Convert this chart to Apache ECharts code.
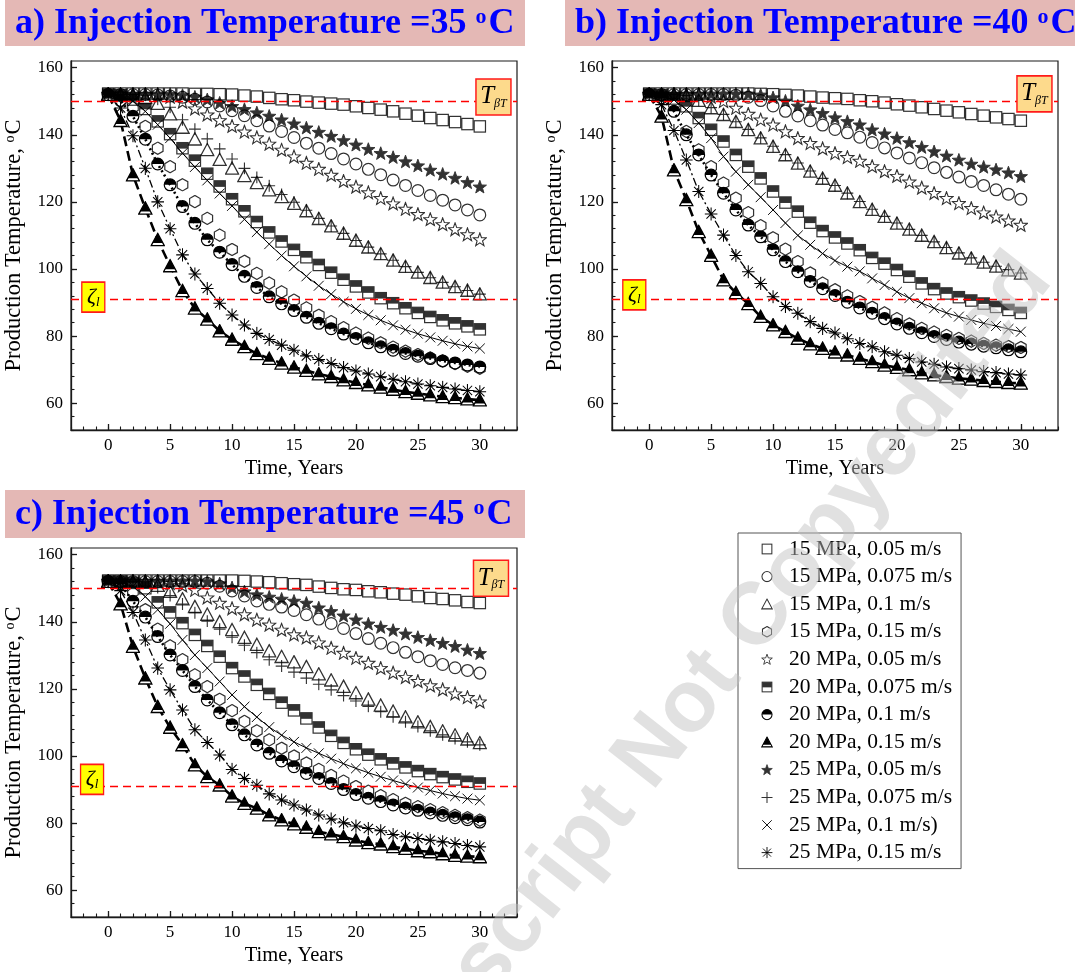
<!DOCTYPE html>
<html>
<head>
<meta charset="utf-8">
<title>Production temperature vs time</title>
<script src="https://cdn.jsdelivr.net/npm/echarts@6/dist/echarts.min.js"></script>
<style>
  html, body { margin: 0; padding: 0; background: #ffffff; }
  #chart { width: 1078px; height: 972px; }
</style>
</head>
<body>
<div id="chart"></div>
<script>
// ---- data -------------------------------------------------------------
const years = [0,1,2,3,4,5,6,7,8,9,10,11,12,13,14,15,16,17,18,19,20,21,22,23,24,25,26,27,28,29,30];
const seriesNames = [
  '15 MPa, 0.05 m/s', '15 MPa, 0.075 m/s', '15 MPa, 0.1 m/s', '15 MPa, 0.15 m/s',
  '20 MPa, 0.05 m/s', '20 MPa, 0.075 m/s', '20 MPa, 0.1 m/s', '20 MPa, 0.15 m/s',
  '25 MPa, 0.05 m/s', '25 MPa, 0.075 m/s', '25 MPa, 0.1 m/s)', '25 MPa, 0.15 m/s'
];
const injectionTemps = ['35', '40', '45'];
const panelLetters = ['a', 'b', 'c'];
const xTickValues = [0, 5, 10, 15, 20, 25, 30];
const yTickValues = [60, 80, 100, 120, 140, 160];
const tBetaT = 150;   // T_betaT threshold, degC
const zetaL = 91;     // zeta_l threshold, degC

// Injection temperature 35 degC
const a15_005  = [152.3,152.3,152.3,152.3,152.3,152.3,152.3,152.2,152.2,152.1,152.0,151.7,151.4,151.0,150.6,150.3,149.9,149.6,149.3,149.0,148.5,148.0,147.5,147.0,146.3,145.7,145.0,144.4,143.8,143.2,142.5];
const a15_0075 = [152.0,152.0,152.0,152.0,151.9,151.6,151.2,150.6,149.8,148.6,147.2,145.7,144.2,142.6,141.0,139.2,137.5,136.0,134.4,132.8,131.3,129.7,128.1,126.5,124.9,123.4,121.9,120.5,119.1,117.6,116.1];
const a15_01   = [152.0,152.0,151.8,151.0,149.3,146.2,142.2,138.7,135.5,132.6,130.0,127.8,125.7,123.5,121.5,119.5,117.3,115.0,112.8,110.6,108.5,106.5,104.5,102.6,100.7,99.0,97.4,96.0,94.7,93.6,92.5];
const a15_015  = [152.0,151.6,148.2,142.5,136.0,130.5,125.1,120.1,115.1,110.1,105.8,102.3,98.7,95.8,93.2,90.7,88.4,86.2,84.3,82.5,80.9,79.4,78.0,76.7,75.5,74.5,73.5,72.6,71.8,71.0,70.4];
const a20_005  = [152.0,152.0,152.0,152.0,151.9,151.3,149.8,147.8,146.0,144.3,142.6,140.9,139.2,137.3,135.5,133.5,131.6,129.8,128.0,126.2,124.5,122.8,121.1,119.5,117.9,116.3,114.8,113.3,111.8,110.3,108.8];
const a20_0075 = [152.0,151.8,150.5,147.7,144.0,140.2,136.0,132.3,128.4,124.6,120.8,117.2,114.0,110.9,108.2,105.7,103.5,101.2,98.9,96.8,94.8,93.0,91.3,89.8,88.3,86.9,85.7,84.7,83.8,82.9,82.0];
const a20_01   = [152.0,150.2,145.5,138.7,131.3,125.1,118.6,113.6,108.7,105.0,101.3,97.8,94.5,91.7,89.6,87.6,85.6,83.8,82.2,80.6,79.3,78.0,76.8,75.8,74.8,74.0,73.3,72.6,72.0,71.4,70.8];
const a20_015  = [152.0,144.2,128.0,118.1,108.7,100.9,93.5,88.3,85.0,81.5,79.0,76.8,74.7,73.3,71.9,70.7,69.7,68.7,67.9,66.9,66.1,65.4,64.7,64.1,63.4,62.9,62.4,61.9,61.6,61.2,60.9];
const a25_005  = [152.2,152.2,152.2,152.2,152.2,152.1,151.8,151.3,150.5,149.5,148.5,147.6,146.6,145.6,144.5,143.3,142.1,140.8,139.6,138.3,137.0,135.7,134.5,133.3,132.0,130.8,129.5,128.3,127.1,125.8,124.5];
const a25_0075 = [152.0,152.0,152.0,151.8,150.6,148.2,144.5,141.7,138.8,135.8,132.8,130.0,127.3,124.8,122.2,119.9,117.5,115.1,112.8,110.6,108.5,106.5,104.5,102.6,100.7,99.0,97.4,96.0,94.7,93.6,92.5];
const a25_01   = [152.0,151.5,150.0,147.0,143.0,139.0,134.5,130.4,126.4,122.5,118.8,114.8,111.0,107.4,104.0,100.8,97.8,95.0,92.5,90.2,88.1,86.3,84.7,83.2,81.9,80.7,79.6,78.6,77.7,76.9,76.3];
const a25_015  = [152.0,148.0,139.7,130.0,120.0,112.0,104.2,98.5,94.2,89.8,86.3,83.3,80.8,79.0,77.3,75.8,74.1,73.0,71.8,70.6,69.6,68.7,67.9,67.1,66.4,65.7,65.2,64.7,64.2,63.8,63.4];

// Injection temperature 40 degC
const b15_005  = [152.3,152.3,152.3,152.3,152.3,152.3,152.3,152.3,152.3,152.2,152.1,151.9,151.7,151.4,151.1,150.9,150.7,150.3,150.0,149.6,149.1,148.7,148.2,147.7,147.2,146.7,146.2,145.7,145.2,144.7,144.2];
const b15_0075 = [152.0,152.0,152.0,152.0,152.0,152.0,152.0,151.8,151.2,150.2,148.6,147.0,145.6,144.2,142.9,141.6,140.6,139.3,137.7,136.1,134.6,133.1,131.7,130.2,128.8,127.4,126.1,124.9,123.6,122.3,120.8];
const b15_01   = [152.0,152.0,152.0,151.6,150.2,148.0,146.0,143.9,141.5,139.0,136.5,134.0,131.5,129.1,127.0,124.9,122.6,120.0,117.7,115.6,113.6,111.8,110.0,108.1,106.3,104.7,103.2,102.0,100.8,99.7,98.7];
const b15_015  = [152.0,151.7,149.2,141.0,135.5,130.5,125.6,121.1,116.8,112.9,109.3,105.9,102.2,98.8,95.8,93.8,92.0,90.3,88.6,86.9,85.2,83.6,82.3,81.2,80.2,79.3,78.5,77.8,77.3,76.9,76.6];
const b20_005  = [152.0,152.0,152.0,152.0,152.0,151.3,150.0,148.0,146.2,144.5,143.0,141.0,139.0,137.5,135.9,134.5,133.3,132.2,130.6,129.1,127.7,126.0,124.2,122.6,121.1,119.6,118.1,116.8,115.6,114.4,113.1];
const b20_0075 = [152.0,151.8,150.8,148.5,145.0,141.5,138.0,134.0,130.5,127.0,123.1,119.8,117.1,113.8,111.3,109.4,107.6,105.6,103.3,101.6,99.7,97.7,95.7,94.0,92.7,91.6,90.6,89.7,88.7,87.8,86.9];
const b20_01   = [152.0,151.0,147.0,140.0,134.0,128.0,122.6,117.6,113.1,109.6,105.7,102.2,99.2,96.3,94.1,92.1,90.1,88.4,86.8,85.2,83.6,82.3,81.0,79.9,79.0,78.2,77.6,77.0,76.5,75.9,75.3];
const b20_015  = [152.0,145.5,129.5,120.6,111.1,104.0,96.7,92.9,89.6,85.8,83.3,81.3,79.3,77.6,76.3,75.2,74.3,73.3,72.3,71.3,70.6,69.9,69.0,68.4,67.9,67.4,67.1,66.7,66.4,66.1,65.9];
const b25_005  = [152.2,152.2,152.2,152.2,152.2,152.2,152.2,152.2,152.2,151.9,151.1,150.1,148.6,147.5,146.4,145.1,144.0,143.0,141.5,140.3,139.0,137.7,136.3,135.0,133.7,132.5,131.3,130.4,129.6,128.7,127.6];
const b25_0075 = [152.0,152.0,152.0,151.7,150.3,148.1,146.1,143.9,141.6,139.1,136.6,134.1,131.6,129.2,127.0,124.9,122.6,120.1,117.8,115.7,113.7,111.8,110.0,108.1,106.4,104.8,103.3,102.0,100.8,99.8,98.8];
const b25_01   = [152.0,151.6,150.4,147.5,143.5,139.0,133.5,129.0,125.1,121.4,117.6,113.7,110.0,107.2,104.6,102.5,100.7,99.3,97.2,95.2,93.2,91.3,89.8,88.3,86.9,85.8,84.8,83.8,83.0,82.1,81.3];
const b25_015  = [152.0,149.0,141.3,132.5,123.1,116.4,110.1,104.0,99.2,95.7,91.7,88.8,86.8,84.3,82.3,80.9,79.2,77.8,76.8,75.3,74.3,73.3,72.3,71.6,70.8,70.3,69.9,69.4,69.1,68.7,68.4];

// Injection temperature 45 degC
const c15_005  = [152.3,152.3,152.3,152.3,152.3,152.3,152.3,152.3,152.3,152.3,152.3,152.2,152.0,151.8,151.5,151.2,151.0,150.5,150.1,149.7,149.5,149.1,148.8,148.4,148.1,147.6,147.1,146.8,146.4,145.9,145.6];
const c15_0075 = [152.0,152.0,152.0,152.0,152.0,152.0,152.0,152.0,151.5,150.6,149.2,147.7,146.2,145.2,144.4,143.4,142.1,140.8,139.5,138.0,136.5,135.0,133.6,132.3,130.9,129.6,128.4,127.3,126.3,125.5,124.7];
const c15_01   = [152.0,152.0,152.0,151.8,150.8,149.0,146.8,144.5,142.2,140.0,137.6,135.3,133.2,131.3,129.6,128.0,126.6,124.4,122.6,120.7,118.8,116.9,115.1,113.3,111.6,110.1,108.7,107.4,106.2,105.0,103.9];
const c15_015  = [152.0,151.7,149.0,143.6,137.8,132.8,128.7,124.2,120.7,116.9,113.5,110.3,107.5,104.8,102.3,100.0,97.9,96.0,94.2,92.5,90.9,89.5,88.2,87.0,85.9,84.9,84.0,83.1,82.3,81.6,80.9];
const c20_005  = [152.0,152.0,152.0,152.0,152.0,151.5,150.8,149.5,147.2,145.6,144.0,142.2,140.6,139.1,137.6,136.2,135.3,133.8,132.2,130.7,129.2,127.7,126.2,124.8,123.5,122.3,121.0,119.8,118.6,117.5,116.2];
const c20_0075 = [152.0,152.0,151.6,150.0,145.8,142.8,139.6,136.1,132.8,129.6,126.2,123.7,121.2,118.5,115.9,113.6,111.2,108.5,106.0,103.9,102.0,100.4,99.0,97.8,96.6,95.5,94.6,93.7,93.0,92.3,91.8];
const c20_01   = [152.0,151.2,146.1,141.4,135.6,130.1,125.5,120.7,116.7,112.9,109.3,106.3,103.3,100.8,98.5,96.8,94.8,93.3,91.8,90.0,88.5,87.4,86.4,85.4,84.5,83.8,83.0,82.3,81.6,81.0,80.3];
const c20_015  = [152.0,145.3,132.6,123.2,114.7,108.5,103.3,97.3,93.8,91.3,88.0,85.8,84.4,82.4,80.9,79.7,78.7,77.4,76.7,75.9,74.9,74.1,73.7,72.9,72.4,71.7,71.4,70.8,70.3,70.1,69.9];
const c25_005  = [152.2,152.2,152.2,152.2,152.2,152.2,152.2,152.2,152.0,151.4,150.2,149.0,148.1,147.4,146.8,146.2,145.6,144.2,143.1,141.8,140.6,139.4,138.4,137.5,136.4,135.4,134.5,133.6,132.7,131.6,130.6];
const c25_0075 = [152.0,152.0,152.0,152.0,150.2,147.8,145.3,142.7,140.2,137.8,135.4,133.0,130.8,128.7,126.8,125.0,123.2,121.4,119.7,118.0,116.4,114.8,113.2,111.7,110.2,108.8,107.5,106.3,105.2,104.2,103.3];
const c25_01   = [152.0,151.7,150.6,147.5,143.6,139.4,134.6,130.1,126.2,122.2,118.2,114.7,111.6,108.6,106.2,104.2,102.4,100.8,99.2,97.7,96.3,95.0,93.8,92.7,91.6,90.6,89.7,88.8,88.0,87.3,86.8];
const c25_015  = [152.0,149.3,142.8,134.6,126.2,119.7,113.7,107.8,104.0,100.3,96.0,93.3,91.3,88.7,86.9,85.4,83.9,82.4,81.2,80.1,79.1,78.4,77.7,76.6,75.9,75.4,74.9,74.4,73.9,73.3,72.9];

const panelData = [
  [a15_005, a15_0075, a15_01, a15_015, a20_005, a20_0075, a20_01, a20_015, a25_005, a25_0075, a25_01, a25_015],
  [b15_005, b15_0075, b15_01, b15_015, b20_005, b20_0075, b20_01, b20_015, b25_005, b25_0075, b25_01, b25_015],
  [c15_005, c15_0075, c15_01, c15_015, c20_005, c20_0075, c20_01, c20_015, c25_005, c25_0075, c25_01, c25_015]
];

// ---- layout & styling -------------------------------------------------
const serif = '"Liberation Serif", "Times New Roman", serif';
const panels = [
  { grid: { left: 71,  top: 61,  width: 446, height: 369 }, band: { x: 5,   y: 0,   w: 520, h: 46 },
    tBox: [31.1, 151.3], zBox: [-1.2, 91.6] },
  { grid: { left: 612, top: 61,  width: 446, height: 369 }, band: { x: 565, y: 0,   w: 510, h: 46 },
    tBox: [31.1, 152.2], zBox: [-1.2, 92.3] },
  { grid: { left: 71,  top: 548, width: 446, height: 369 }, band: { x: 5,   y: 490, w: 520, h: 48 },
    tBox: [30.9, 153.0], zBox: [-1.3, 93.0] }
];

// marker glyphs (24x24 units, drawn as small SVG images)
function svgSymbol(body) {
  const svg = '<svg xmlns="http://www.w3.org/2000/svg" width="48" height="48" viewBox="0 0 24 24">' + body + '</svg>';
  return 'image://data:image/svg+xml;charset=utf-8,' + encodeURIComponent(svg);
}
function ringPoints(n, radii, cx, cy, startDeg) {
  const pts = [];
  for (let k = 0; k < n; k++) {
    const a = (startDeg + k * 360 / n) * Math.PI / 180;
    const r = radii[k % radii.length];
    pts.push((cx + r * Math.cos(a)).toFixed(2) + ',' + (cy + r * Math.sin(a)).toFixed(2));
  }
  return pts.join(' ');
}
const SW = 'stroke="#000" stroke-width="2.1"';
const starPts = ringPoints(10, [11.2, 4.6], 12, 12.8, -90);
const hexPts = ringPoints(6, [10.5], 12, 12, -90);
const markers = [
  svgSymbol('<rect x="2.3" y="2.3" width="19.4" height="19.4" fill="none" ' + SW + '/>'),
  svgSymbol('<circle cx="12" cy="12" r="10.1" fill="none" ' + SW + '/>'),
  svgSymbol('<polygon points="12,1.8 22.5,21.3 1.5,21.3" fill="none" ' + SW + '/>'),
  svgSymbol('<polygon points="' + hexPts + '" fill="none" ' + SW + '/>'),
  svgSymbol('<polygon points="' + starPts + '" fill="none" stroke="#000" stroke-width="1.8" stroke-linejoin="miter"/>'),
  svgSymbol('<rect x="2.3" y="2.3" width="19.4" height="10.4" fill="#000"/><rect x="2.3" y="2.3" width="19.4" height="19.4" fill="none" ' + SW + '/>'),
  svgSymbol('<path d="M1.9,12 A10.1,10.1 0 0 1 22.1,12 Z" fill="#000"/><circle cx="12" cy="12" r="10.1" fill="none" ' + SW + '/>'),
  svgSymbol('<polygon points="12,1.8 22.5,21.3 1.5,21.3" fill="#000"/><polygon points="3.7,17.2 20.3,17.2 22.5,21.3 1.5,21.3" fill="#fff"/><polygon points="12,1.8 22.5,21.3 1.5,21.3" fill="none" ' + SW + '/>'),
  svgSymbol('<polygon points="' + starPts + '" fill="#000" stroke="#000" stroke-width="1.5"/>'),
  svgSymbol('<path d="M12,1 V23 M1,12 H23" fill="none" ' + SW + '/>'),
  svgSymbol('<path d="M2.5,2.5 L21.5,21.5 M2.5,21.5 L21.5,2.5" fill="none" stroke="#000" stroke-width="1.8"/>'),
  svgSymbol('<path d="M12,0.8 V23.2 M4,4 L20,20 M4,20 L20,4 M1.2,12 H22.8" fill="none" stroke="#000" stroke-width="1.8"/>')
];
const markerSizes = [14, 14, 15, 14, 15, 14, 14, 15, 15, 13, 12.5, 14];
// connecting curves drawn for a few of the series
const curveStyles = {
  6:  { width: 2.6, type: [2, 3] },
  7:  { width: 2.6, type: [10, 5] },
  10: { width: 1.0, type: 'solid' },
  11: { width: 1.3, type: [8, 3, 2, 3] }
};

const xMinorTicks = [];
for (let v = -3; v <= 33; v += 1) xMinorTicks.push(v);
const yMinorTicks = [];
for (let v = 52; v <= 162; v += 4) yMinorTicks.push(v);

const axisColor = '#1a1a1a';
const grids = [], xAxes = [], yAxes = [], series = [], graphics = [];

panels.forEach((p, g) => {
  grids.push(Object.assign({ show: true, borderColor: axisColor, borderWidth: 1.2, backgroundColor: 'transparent' }, p.grid));

  xAxes.push({
    gridIndex: g, type: 'value', position: 'bottom', min: -3, max: 33,
    axisLine: { onZero: false, lineStyle: { color: axisColor, width: 1.3 } },
    axisTick: { inside: true, length: 6, customValues: xTickValues, lineStyle: { color: axisColor, width: 1.3 } },
    axisLabel: { customValues: xTickValues, color: '#000', fontFamily: serif, fontSize: 17, margin: 7 },
    splitLine: { show: false },
    name: 'Time, Years', nameLocation: 'middle', nameGap: 28,
    nameTextStyle: { color: '#000', fontFamily: serif, fontSize: 20.5 }
  });
  xAxes.push({
    gridIndex: g, type: 'value', position: 'bottom', min: -3, max: 33,
    axisLine: { show: false },
    axisTick: { inside: true, length: 3.5, customValues: xMinorTicks, lineStyle: { color: axisColor, width: 1.1 } },
    axisLabel: { show: false }, splitLine: { show: false }
  });
  yAxes.push({
    gridIndex: g, type: 'value', position: 'left', min: 52, max: 162,
    axisLine: { show: true, onZero: false, lineStyle: { color: axisColor, width: 1.3 } },
    axisTick: { show: true, inside: true, length: 6, customValues: yTickValues, lineStyle: { color: axisColor, width: 1.3 } },
    axisLabel: { customValues: yTickValues, color: '#000', fontFamily: serif, fontSize: 17, margin: 8 },
    splitLine: { show: false },
    name: '{n|Production Temperature, }{s|o}{n|C}', nameLocation: 'middle', nameGap: 45,
    nameTextStyle: {
      rich: {
        n: { color: '#000', fontFamily: serif, fontSize: 22.5 },
        s: { color: '#000', fontFamily: serif, fontSize: 14, verticalAlign: 'top', padding: [0, 1, 9, 0] }
      }
    }
  });
  yAxes.push({
    gridIndex: g, type: 'value', position: 'left', min: 52, max: 162,
    axisLine: { show: false, onZero: false },
    axisTick: { show: true, inside: true, length: 3.5, customValues: yMinorTicks, lineStyle: { color: axisColor, width: 1.1 } },
    axisLabel: { show: false }, splitLine: { show: false }
  });

  panelData[g].forEach((values, i) => {
    const curve = curveStyles[i];
    const s = {
      name: seriesNames[i],
      type: curve ? 'line' : 'scatter',
      xAxisIndex: 2 * g, yAxisIndex: 2 * g,
      data: years.map((t, k) => [t, values[k]]),
      symbol: markers[i], symbolSize: markerSizes[i],
      silent: true, z: 3
    };
    if (curve) {
      s.showSymbol = true; s.showAllSymbol = true;
      s.lineStyle = { color: '#000', width: curve.width, type: curve.type };
      s.itemStyle = { color: '#000' };
    }
    series.push(s);
  });

  // threshold lines
  series.push({
    name: 'thresholds', type: 'line', xAxisIndex: 2 * g, yAxisIndex: 2 * g, data: [], z: 8, silent: true,
    markLine: {
      silent: true, symbol: ['none', 'none'], animation: false,
      label: { show: false },
      lineStyle: { color: '#ff0000', width: 1.3, type: [8, 5] },
      data: [{ yAxis: tBetaT }, { yAxis: zetaL }]
    }
  });
  // threshold tags
  series.push({
    name: 'tags', type: 'line', xAxisIndex: 2 * g, yAxisIndex: 2 * g, data: [], z: 9, silent: true,
    markPoint: {
      silent: true, animation: false,
      data: [
        {
          coord: p.tBox, symbol: 'rect', symbolSize: [35, 36],
          itemStyle: { color: '#fdda8c', borderColor: '#ff1a1a', borderWidth: 1.5 },
          label: {
            show: true, position: 'inside', formatter: '{t|T}{s|\u03B2T}',
            rich: {
              t: { fontFamily: serif, fontStyle: 'italic', fontSize: 25, color: '#000' },
              s: { fontFamily: serif, fontStyle: 'italic', fontSize: 12, color: '#000', verticalAlign: 'bottom', padding: [12, 0, 0, 0] }
            }
          }
        },
        {
          coord: p.zBox, symbol: 'rect', symbolSize: [23, 30],
          itemStyle: { color: '#ffff00', borderColor: '#ff1a1a', borderWidth: 1.5 },
          label: {
            show: true, position: 'inside', formatter: '{t|\u03B6}{s|l}',
            rich: {
              t: { fontFamily: serif, fontStyle: 'italic', fontSize: 22, color: '#000' },
              s: { fontFamily: serif, fontStyle: 'italic', fontSize: 13, color: '#000', verticalAlign: 'bottom', padding: [10, 0, 0, 0] }
            }
          }
        }
      ]
    }
  });

  // panel heading band
  const b = p.band;
  graphics.push({
    type: 'rect', z: 1, silent: true,
    shape: { x: b.x, y: b.y, width: b.w, height: b.h },
    style: { fill: '#e4b8b5' }
  });
  graphics.push({
    type: 'text', z: 2, silent: true, x: b.x + 10, y: b.y + b.h / 2 + 1,
    style: {
      text: '{m|' + panelLetters[g] + ') Injection Temperature =' + injectionTemps[g] + ' }{s|o}{m|C}',
      align: 'left', verticalAlign: 'middle', textAlign: 'left', textVerticalAlign: 'middle',
      rich: {
        m: { fontFamily: serif, fontWeight: 'bold', fontSize: 36, fill: '#0000ff', color: '#0000ff' },
        s: { fontFamily: serif, fontWeight: 'bold', fontSize: 22, fill: '#0000ff', color: '#0000ff', verticalAlign: 'top', padding: [0, 2, 14, 0] }
      }
    }
  });
});

// diagonal watermark
graphics.push({
  type: 'text', z: 100, silent: true, x: 328, y: 1166, rotation: 0.905,
  style: {
    text: 'Manuscript Not Copyedited',
    font: 'bold 88px "Liberation Sans", Arial, sans-serif',
    fill: 'rgba(192,192,192,0.48)',
    align: 'left', verticalAlign: 'middle', textAlign: 'left', textVerticalAlign: 'middle'
  }
});

const option = {
  animation: false,
  backgroundColor: '#ffffff',
  grid: grids,
  xAxis: xAxes,
  yAxis: yAxes,
  legend: {
    orient: 'vertical', left: 738, top: 533,
    data: seriesNames.map((n, i) => ({ name: n, icon: markers[i] })),
    itemWidth: 12, itemHeight: 12, itemGap: 5.6,
    selectedMode: false,
    backgroundColor: '#ffffff', borderColor: '#555555', borderWidth: 1, borderRadius: 0,
    padding: [5, 9, 5, 23],
    textStyle: { color: '#000', fontFamily: serif, fontSize: 21.5, lineHeight: 22, padding: [0, 0, 0, 11] }
  },
  graphic: { elements: graphics },
  series: series
};

const chart = echarts.init(document.getElementById('chart'), null, { renderer: 'canvas' });
chart.setOption(option);
</script>
</body>
</html>
